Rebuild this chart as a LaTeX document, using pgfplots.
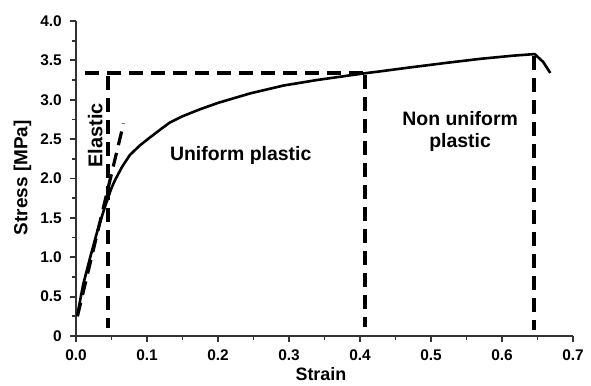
\documentclass[border=0pt]{standalone}
\usepackage{pgfplots}
\pgfplotsset{compat=1.18}
\usepackage{fontspec}
\setmainfont{Liberation Sans}
\newcommand{\tl}[1]{\mbox{\bfseries\fontsize{15.5}{15.5}\selectfont #1}}
\begin{document}
\begin{tikzpicture}
\begin{axis}[
  name=ax,
  at={(0,0)}, anchor=south west,
  scale only axis,
  width=497bp, height=315bp,
  xmin=0, xmax=0.7, ymin=0, ymax=4.0,
  axis lines*=left,
  axis line style={black!80, line width=1.8bp},
  xtick={0,0.1,...,0.7},
  xticklabels={\tl{0.0},\tl{0.1},\tl{0.2},\tl{0.3},\tl{0.4},\tl{0.5},\tl{0.6},\tl{0.7}},
  ytick={0,0.5,...,4.0},
  yticklabels={\tl{0},\tl{0.5},\tl{1.0},\tl{1.5},\tl{2.0},\tl{2.5},\tl{3.0},\tl{3.5},\tl{4.0}},
  minor tick num=1,
  tick align=outside,
  major tick length=6bp,
  minor tick length=4bp,
  tick style={black!80, line width=1.8bp},
  /pgf/number format/assume math mode=true,
  tick label style={font=\bfseries\fontsize{15.5}{15.5}\selectfont, inner sep=2bp},
  yticklabel style={xshift=-6bp},
  xticklabel style={yshift=-6bp},
  clip=false,
]
% stress-strain curve
\addplot[black, line width=2.6bp, line join=round] coordinates {
(0.002,0.27) (0.01,0.65) (0.02,1.0) (0.03,1.33) (0.04,1.62) (0.045,1.75)
(0.05,1.88) (0.055,1.98) (0.065,2.15) (0.076,2.3) (0.09,2.42) (0.104,2.52)
(0.12,2.63) (0.132,2.71) (0.15,2.79) (0.175,2.88) (0.2,2.96) (0.245,3.08)
(0.292,3.18) (0.339,3.25) (0.386,3.31) (0.41,3.34) (0.428,3.36) (0.47,3.41)
(0.523,3.47) (0.57,3.52) (0.616,3.56) (0.646,3.58) (0.658,3.48) (0.668,3.34)
};
% elastic dashed line
\addplot[black, line width=3.2bp, dash pattern=on 14bp off 8bp] coordinates {(0.002,0.25) (0.067,2.70)};
% horizontal dashed
\addplot[black, line width=3.2bp, dash pattern=on 14bp off 8bp] coordinates {(0.013,3.34) (0.41,3.34)};
% vertical dashed lines
\addplot[black, line width=3.2bp, dash pattern=on 14bp off 8bp] coordinates {(0.045,3.30) (0.045,0.10)};
\addplot[black, line width=3.2bp, dash pattern=on 14bp off 8bp] coordinates {(0.407,3.32) (0.407,0.12)};
\addplot[black, line width=3.2bp, dash pattern=on 14bp off 8bp] coordinates {(0.645,3.55) (0.645,0.08)};
% region labels
\node[rotate=90, font=\bfseries\fontsize{20}{20}\selectfont] at (axis cs:0.027,2.55) {Elastic};
\node[font=\bfseries\fontsize{19.5}{19.5}\selectfont] at (axis cs:0.232,2.29) {Uniform plastic};
\node[font=\bfseries\fontsize{19.5}{22}\selectfont, align=center] at (axis cs:0.541,2.60) {Non uniform\\plastic};
% axis labels
\node[rotate=90, font=\bfseries\fontsize{19}{19}\selectfont] at (axis cs:-0.0755,2.01) {Stress [MPa]};
\node[font=\bfseries\fontsize{18}{18}\selectfont, anchor=base, inner sep=1bp] at (axis cs:0.345,-0.565) {Strain};
\end{axis}
\pgfresetboundingbox
\path (-76bp,-50bp) rectangle (515bp,336bp);
\end{tikzpicture}
\end{document}
